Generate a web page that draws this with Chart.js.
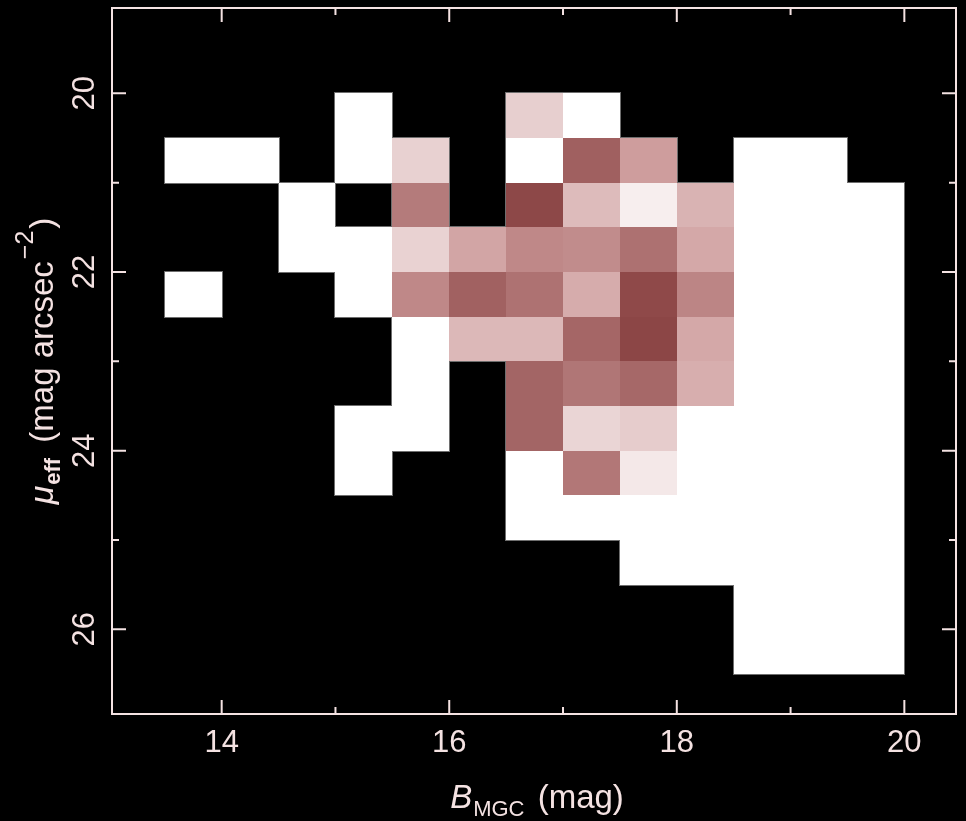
<!DOCTYPE html>
<html>
<head>
<meta charset="utf-8">
<script src="https://cdn.jsdelivr.net/npm/chart.js@4.4.0/dist/chart.umd.min.js"></script>
<style>
  html, body { margin: 0; padding: 0; background: #000; }
  #wrap { width: 966px; height: 821px; }
</style>
</head>
<body>
<div id="wrap"><canvas id="chart"></canvas></div>
<script>
// ── Bins (left / top edges, 0.5 mag wide) ─────
const magBins = [13.5, 14.0, 14.5, 15.0, 15.5, 16.0, 16.5, 17.0, 17.5, 18.0, 18.5, 19.0, 19.5];
const muBins  = [20.0, 20.5, 21.0, 21.5, 22.0, 22.5, 23.0, 23.5, 24.0, 24.5, 25.0, 25.5, 26.0];
const binSize = 0.5;

// ── Density per mu row (null = empty, 0 = white) ──
const n = null;
const density = [
  [n, n, n, 0, n,    n,    0.24, 0,    n,     n,     n, n, n],  // 20.0
  [0, 0, n, 0, 0.23, n,    0,    0.85, 0.49,  n,     0, 0, n],  // 20.5
  [n, n, 0, n, 0.69, n,    0.99, 0.34, 0.085, 0.38,  0, 0, 0],  // 21.0
  [n, n, 0, 0, 0.225,0.45, 0.61, 0.59, 0.75,  0.435, 0, 0, 0],  // 21.5
  [0, n, n, 0, 0.61, 0.84, 0.74, 0.415,0.98,  0.63,  0, 0, 0],  // 22.0
  [n, n, n, n, 0,    0.355,0.355,0.81, 1.0,   0.435, 0, 0, 0],  // 22.5
  [n, n, n, n, 0,    n,    0.82, 0.72, 0.80,  0.405, 0, 0, 0],  // 23.0
  [n, n, n, 0, 0,    n,    0.82, 0.21, 0.255, 0,     0, 0, 0],  // 23.5
  [n, n, n, 0, n,    n,    0,    0.71, 0.115, 0,     0, 0, 0],  // 24.0
  [n, n, n, n, n,    n,    0,    0,    0,     0,     0, 0, 0],  // 24.5
  [n, n, n, n, n,    n,    n,    n,    0,     0,     0, 0, 0],  // 25.0
  [n, n, n, n, n,    n,    n,    n,    n,     n,     0, 0, 0],  // 25.5
  [n, n, n, n, n,    n,    n,    n,    n,     n,     0, 0, 0]   // 26.0
];

// ── Ticks ──────────────────────────────────────
const xMajorTicks = [14, 16, 18, 20];
const xMinorTicks = [15, 17, 19];
const yMajorTicks = [20, 22, 24, 26];
const yMinorTicks = [21, 23, 25];

const FG   = '#f4e2e2';
const FONT = '"Liberation Sans", Arial, sans-serif';

// ── Colour ramp white → dark red ───────────────
function cellColor(v) {
  const stops = [[0, [255, 255, 255]], [0.5, [205, 155, 155]], [1, [140, 70, 70]]];
  let i = v <= 0.5 ? 0 : 1;
  const [t0, c0] = stops[i];
  const [t1, c1] = stops[i + 1];
  const f = (v - t0) / (t1 - t0);
  const c = c0.map((a, k) => Math.round(a + (c1[k] - a) * f));
  return `rgb(${c[0]},${c[1]},${c[2]})`;
}

const points = [];
density.forEach((row, i) => {
  row.forEach((v, j) => {
    if (v === null) return;
    points.push({ x: magBins[j] + binSize / 2, y: muBins[i] + binSize / 2, v });
  });
});

// ── Cells plugin ───────────────────────────────
const cellsPlugin = {
  id: 'cells',
  beforeDatasetsDraw(chart) {
    const { ctx, chartArea: a, scales: { x, y } } = chart;
    const data = chart.data.datasets[0].data;
    const rect = p => {
      const x0 = Math.round(x.getPixelForValue(p.x - binSize / 2));
      const x1 = Math.round(x.getPixelForValue(p.x + binSize / 2));
      const y0 = Math.round(y.getPixelForValue(p.y - binSize / 2));
      const y1 = Math.round(y.getPixelForValue(p.y + binSize / 2));
      return [x0, y0, x1 - x0, y1 - y0];
    };
    ctx.save();
    ctx.beginPath();
    ctx.rect(a.left, a.top, a.right - a.left, a.bottom - a.top);
    ctx.clip();
    // faint grey outline around the occupied area
    ctx.fillStyle = '#6e6e6e';
    data.forEach(p => {
      const [rx, ry, rw, rh] = rect(p);
      ctx.fillRect(rx - 1, ry - 1, rw + 2, rh + 2);
    });
    data.forEach(p => {
      const [rx, ry, rw, rh] = rect(p);
      ctx.fillStyle = cellColor(p.v);
      ctx.fillRect(rx, ry, rw, rh);
    });
    ctx.restore();
  }
};

// ── Rich text helper ───────────────────────────
function drawRich(ctx, pieces, cx, cy) {
  let total = 0;
  pieces.forEach(p => { ctx.font = p.font; total += ctx.measureText(p.text).width + (p.gap || 0); });
  let px = cx - total / 2;
  pieces.forEach(p => {
    ctx.font = p.font;
    ctx.fillText(p.text, px, cy + (p.dy || 0));
    px += ctx.measureText(p.text).width + (p.gap || 0);
  });
}

// ── Frame, ticks and labels plugin ─────────────
const framePlugin = {
  id: 'frame',
  afterDraw(chart) {
    const { ctx, chartArea: a, scales: { x, y } } = chart;
    ctx.save();
    ctx.strokeStyle = FG;
    ctx.lineWidth = 2;
    ctx.strokeRect(a.left, a.top, a.right - a.left, a.bottom - a.top);

    const tick = (list, len) => {
      list.forEach(v => {
        const px = x.getPixelForValue(v);
        ctx.beginPath();
        ctx.moveTo(px, a.bottom); ctx.lineTo(px, a.bottom - len);
        ctx.moveTo(px, a.top);    ctx.lineTo(px, a.top + len);
        ctx.stroke();
      });
    };
    const tickY = (list, len) => {
      list.forEach(v => {
        const py = y.getPixelForValue(v);
        ctx.beginPath();
        ctx.moveTo(a.left, py);  ctx.lineTo(a.left + len, py);
        ctx.moveTo(a.right, py); ctx.lineTo(a.right - len, py);
        ctx.stroke();
      });
    };
    tick(xMajorTicks, 14);
    tick(xMinorTicks, 7);
    tickY(yMajorTicks, 14);
    tickY(yMinorTicks, 7);

    ctx.fillStyle = FG;
    ctx.font = `31px ${FONT}`;
    ctx.textAlign = 'center';
    ctx.textBaseline = 'alphabetic';
    xMajorTicks.forEach(v => {
      ctx.fillText(String(v), x.getPixelForValue(v), 752);
    });
    yMajorTicks.forEach(v => {
      ctx.save();
      ctx.translate(94, y.getPixelForValue(v));
      ctx.rotate(-Math.PI / 2);
      ctx.fillText(String(v), 0, 0);
      ctx.restore();
    });

    // axis titles
    ctx.textAlign = 'left';
    drawRich(ctx, [
      { text: 'B', font: `italic 33px ${FONT}`, gap: 1 },
      { text: 'MGC', font: `22px ${FONT}`, dy: 8, gap: 4 },
      { text: ' (mag)', font: `33px ${FONT}` }
    ], (a.left + a.right) / 2 + 3, 808);

    ctx.save();
    ctx.translate(53, (a.top + a.bottom) / 2);
    ctx.rotate(-Math.PI / 2);
    drawRich(ctx, [
      { text: 'μ', font: `italic 34px ${FONT}`, gap: 1 },
      { text: 'eff', font: `bold 22px ${FONT}`, dy: 7, gap: 6 },
      { text: ' (mag arcsec', font: `33px ${FONT}`, gap: 2 },
      { text: '−2', font: `25px ${FONT}`, dy: -20, gap: 2 },
      { text: ')', font: `33px ${FONT}` }
    ], 0, 0);
    ctx.restore();

    ctx.restore();
  }
};

new Chart(document.getElementById('chart'), {
  type: 'scatter',
  data: {
    datasets: [{
      data: points,
      pointRadius: 0,
      pointHoverRadius: 0
    }]
  },
  options: {
    responsive: true,
    maintainAspectRatio: false,
    animation: false,
    layout: { padding: { left: 112, top: 8, right: 10, bottom: 107 } },
    plugins: { legend: { display: false }, tooltip: { enabled: false } },
    events: [],
    scales: {
      x: { type: 'linear', display: false, min: 13.036, max: 20.454 },
      y: { type: 'linear', display: false, reverse: true, min: 19.045, max: 26.948 }
    }
  },
  plugins: [cellsPlugin, framePlugin]
});
</script>
</body>
</html>
